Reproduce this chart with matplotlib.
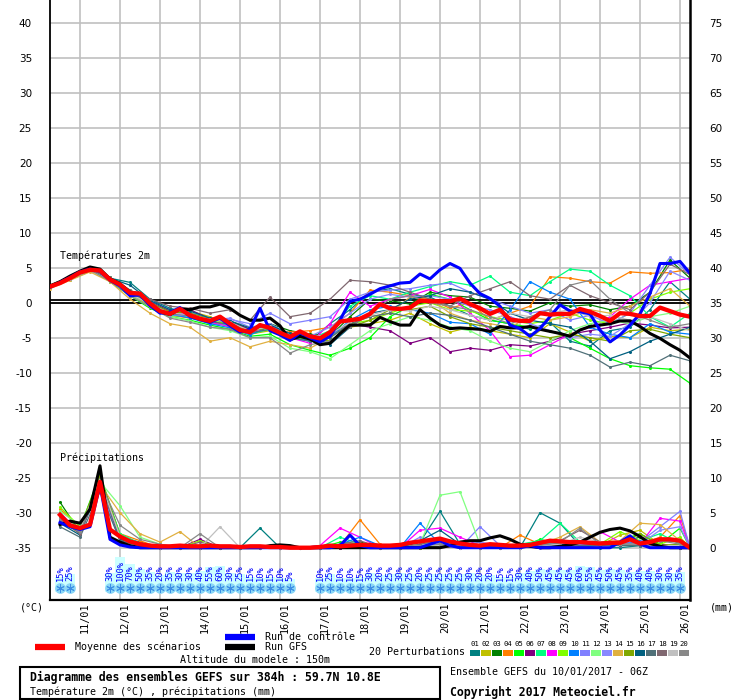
import numpy as np
import matplotlib
matplotlib.use("Agg")
import matplotlib.pyplot as plt
from matplotlib.patches import Rectangle
from matplotlib.transforms import ScaledTranslation

plt.rcParams['axes.unicode_minus'] = False
mono = 'DejaVu Sans Mono'

# ---- time axes (hours after 10/01 06Z) ----
hours6 = np.arange(0, 385, 6)           # mean / control / GFS temperature
hours12 = np.arange(0, 385, 12)         # perturbation temperature
p_hours6 = np.arange(6, 385, 6)         # mean / control / GFS precipitation
p_hours12 = list(range(6, 379, 12)) + [384]   # perturbation precipitation

day_hours = list(range(18, 379, 24))
day_labels = ["%02d/01" % d for d in range(11, 27)]

# ---- temperature 2m (C) ----
mean_t = [2.3, 2.8, 3.5, 4.3, 4.7, 4.6, 3.3, 2.6, 1.4, 1.3,
          -0.1, -1.2, -1.6, -0.9, -1.8, -2.3, -2.6, -2.0, -3.0, -3.9,
          -4.2, -3.2, -3.6, -4.3, -4.9, -4.1, -4.8, -5.1, -4.2, -2.7,
          -2.5, -2.3, -1.6, -0.2, -0.8, -0.9, -0.7, 0.3, 0.2, 0.2,
          0.2, 0.6, -0.2, -0.8, -1.6, -1.0, -2.4, -2.6, -2.6, -1.5,
          -1.7, -1.6, -1.6, -0.9, -1.3, -1.9, -2.6, -1.5, -1.6, -1.9,
          -1.9, -0.7, -1.2, -1.7, -2.0]
ctrl_t = [2.2, 2.9, 3.6, 4.4, 4.8, 4.5, 3.2, 2.4, 1.0, 1.1,
          -0.4, -1.5, -1.4, -0.7, -2.0, -2.4, -2.8, -2.2, -3.3, -4.2,
          -3.8, -0.8, -4.0, -4.6, -5.4, -4.3, -5.0, -5.6, -4.8, -2.5,
          0.2, 0.5, 1.2, 2.0, 2.4, 2.8, 2.9, 4.1, 3.4, 4.7,
          5.6, 4.9, 2.8, 1.3, 0.6, -0.5, -3.2, -3.7, -4.8, -3.7,
          -2.0, -0.3, -1.2, -1.3, -1.6, -3.9, -5.6, -4.6, -3.2, -1.6,
          1.3, 5.6, 5.6, 5.9, 4.2]
gfs_t = [2.4, 3.0, 3.8, 4.5, 5.1, 4.8, 3.4, 2.7, 1.5, 1.2,
         -0.3, -1.3, -1.7, -0.9, -1.0, -0.6, -0.6, -0.2, -0.8, -1.8,
         -2.5, -2.5, -2.2, -3.3, -5.3, -4.8, -5.2, -6.0, -5.8, -4.4,
         -3.2, -3.2, -3.2, -2.1, -2.7, -3.2, -3.2, -1.0, -2.2, -3.2,
         -3.7, -3.6, -3.7, -3.8, -4.1, -3.4, -3.6, -3.6, -3.4, -3.8,
         -4.1, -4.4, -4.8, -3.9, -3.4, -3.2, -3.0, -2.6, -2.6, -3.4,
         -4.4, -5.1, -6.0, -6.8, -7.9]

t01 = [2.2, 3.4, 4.6, 3.5, 2.9, 0.5, -0.8, -1.5, -2.2, -2.8, -4.0,
       -3.2, -4.6, -5.5, -3.0, -1.0, 1.5, 2.0, 1.2, 0.8, -0.5, -1.8,
       -2.5, -3.0, -3.8, -2.8, -5.5, -6.2, -4.0, -3.5, -1.0, 3.0, 0.5]
t02 = [2.4, 3.6, 4.9, 3.6, 1.2, -0.3, -1.0, -1.2, -2.0, -3.3, -4.5,
       -4.0, -5.2, -5.0, -5.5, -3.5, -3.0, -2.5, -1.5, -3.0, -4.2, -3.5,
       -4.0, -4.5, -5.0, -3.0, -4.2, -5.5, -4.8, -5.0, -3.5, -4.0, -3.8]
t03 = [2.3, 3.5, 4.8, 3.2, 1.6, 0.0, -1.5, -1.7, -2.5, -2.6, -3.8,
       -3.0, -4.0, -4.5, -4.8, -2.0, 0.5, 0.3, -0.2, 1.5, 1.0, 0.8,
       -0.5, -0.8, -1.2, 0.0, -0.5, -0.3, -1.0, -0.5, 1.5, 6.1, 3.5]
t04 = [2.1, 3.3, 4.5, 3.4, 1.3, -0.5, -1.8, -2.2, -2.5, -3.5, -4.5,
       -3.8, -4.2, -4.0, -3.5, -1.5, 1.8, 1.5, 1.0, 0.5, -0.8, 0.0,
       -2.5, -1.5, -0.5, 3.7, 3.5, 3.0, 2.8, 4.4, 4.2, 4.3, 4.8]
t05 = [2.5, 3.7, 4.9, 3.0, 1.0, -0.8, -2.0, -2.5, -3.2, -3.8, -4.8,
       -4.5, -6.0, -6.8, -7.5, -6.5, -5.0, -2.0, -0.5, 1.2, 0.5, -1.0,
       -2.5, -3.0, -3.5, -4.0, -5.0, -6.5, -8.0, -9.0, -9.3, -9.5, -11.5]
t06 = [2.2, 3.4, 4.6, 3.4, 1.5, 0.2, -1.2, -1.0, -2.3, -2.8, -3.8,
       -3.5, -4.5, -4.8, -4.5, -3.0, -3.5, -4.0, -5.8, -5.0, -7.0, -6.5,
       -6.8, -6.0, -6.2, -5.5, -4.5, -4.0, -3.5, -2.9, -3.2, -3.6, -3.5]
t07 = [2.3, 3.5, 4.7, 3.6, 1.8, 0.0, -1.8, -2.0, -3.0, -3.2, -4.5,
       -3.8, -5.0, -5.2, -4.0, -0.5, 1.0, 0.5, 1.5, 2.3, 3.0, 2.5,
       3.8, 1.5, 1.0, 3.0, 4.8, 4.5, 2.5, 1.0, -2.0, -3.5, -1.5]
t08 = [2.4, 3.6, 4.8, 3.3, 1.2, -0.2, -1.4, -1.6, -2.8, -3.4, -4.3,
       -3.3, -5.0, -5.8, -3.0, 1.5, -0.5, 0.5, 1.0, 1.9, 0.8, -1.5,
       -4.0, -7.7, -7.5, -6.0, -4.5, -3.5, -2.0, 0.5, 2.5, 3.0, 3.5]
t09 = [2.2, 3.4, 4.6, 3.1, 1.3, -0.3, -1.5, -2.0, -2.6, -3.0, -4.0,
       -3.5, -4.6, -5.0, -5.0, -3.0, -2.5, -1.5, -0.5, 0.0, -1.0, -1.2,
       -2.0, -2.5, -3.0, -2.5, -1.5, -2.5, -3.0, -1.5, 0.5, 1.5, 2.0]
t10 = [2.3, 3.5, 4.7, 3.3, 1.5, 0.0, -1.6, -2.2, -3.0, -3.6, -4.6,
       -3.4, -5.0, -5.5, -5.0, -2.5, -1.0, -0.5, -1.0, -1.5, -2.8, -3.0,
       -4.5, -1.0, 3.0, 1.5, 0.5, -3.5, -4.5, -5.0, -3.0, -4.2, -4.5]
t11 = [2.4, 3.6, 4.8, 3.5, 1.6, 0.3, -1.0, -1.4, -2.2, -2.4, -3.0,
       -1.5, -3.0, -2.5, -2.0, 0.5, 1.5, 1.8, 2.0, 2.5, 2.8, 1.5,
       0.5, -0.5, -1.5, -1.0, -2.5, -1.8, -3.0, -1.5, 2.5, 6.5, 4.0]
t12 = [2.1, 3.3, 4.5, 3.4, 1.1, -0.6, -2.0, -2.6, -3.5, -4.0, -5.0,
       -4.8, -6.5, -7.0, -8.0, -6.0, -4.0, -3.0, -2.0, -2.5, -3.5, -4.0,
       -5.5, -6.5, -7.0, -5.5, -4.0, -3.0, -2.5, -3.0, -2.0, -1.5, -0.5]
t13 = [2.3, 3.5, 4.7, 3.2, 1.4, -0.2, -1.7, -1.9, -2.5, -2.2, -3.5,
       -3.0, -4.5, -4.8, -3.5, -1.5, 0.5, 1.2, 0.8, 1.0, 0.5, -0.5,
       -1.0, -2.0, -3.0, -4.0, -5.0, -4.5, -4.8, -3.0, 0.0, 4.5, 3.2]
t14 = [2.0, 3.2, 4.4, 3.0, 0.5, -1.5, -3.0, -3.5, -5.5, -5.0, -6.3,
       -5.5, -6.0, -6.5, -5.0, -3.0, -2.0, -1.5, 0.8, 0.5, -1.5, -2.5,
       -3.0, -3.5, -2.0, -2.5, -2.0, -1.0, -1.5, -0.5, 0.8, 2.0, -0.5]
t15 = [2.3, 3.5, 4.7, 3.4, 1.5, 0.0, -1.3, -1.5, -2.3, -2.9, -4.0,
       -3.6, -4.8, -5.2, -5.5, -3.5, -2.5, -1.0, -1.0, -0.5, -2.0, -3.0,
       -3.5, -4.0, -4.5, -5.0, -4.5, -5.0, -5.5, -4.0, -3.8, -4.5, -5.0]
t16 = [2.2, 3.4, 4.6, 3.5, 2.5, 0.3, -1.0, -1.2, -2.2, -2.6, -3.6,
       -3.2, -4.4, -4.6, -6.0, -3.5, -1.5, -1.0, 0.5, 1.0, 2.0, 1.5,
       0.5, -1.5, -2.5, -3.0, -3.5, -5.5, -8.0, -7.0, -5.5, -4.5, -3.5]
t17 = [2.3, 3.5, 4.7, 3.3, 1.4, -0.1, -1.6, -1.8, -2.7, -3.1, -4.3,
       -3.8, -5.0, -5.5, -5.0, -3.0, -2.0, -1.5, -2.0, -1.5, -1.8, -2.5,
       -3.5, -4.5, -5.5, -6.0, -6.5, -7.5, -9.2, -8.5, -9.0, -7.5, -8.3]
t18 = [2.4, 3.6, 4.8, 3.6, 1.8, 0.5, -0.5, -0.8, -1.5, -1.0, -2.5,
       0.8, -2.0, -1.5, 0.5, 3.2, 3.0, 2.5, 1.5, 0.5, -0.5, 1.0,
       2.0, 3.0, 1.0, 0.5, 2.5, 1.0, 0.0, -1.0, 1.5, 5.5, 4.0]
t19 = [2.2, 3.4, 4.6, 3.2, 1.3, -0.2, -1.5, -1.7, -2.4, -2.8, -4.0,
       -3.4, -4.7, -4.9, -4.5, -2.8, -1.8, -1.0, -1.2, -0.5, -1.0, -1.8,
       -2.5, -1.5, -2.0, -1.5, -1.0, -2.0, -1.8, -2.5, -2.0, -3.0, -4.0]
t20 = [2.3, 3.5, 4.7, 3.1, 1.0, -0.6, -2.2, -2.8, -3.5, -3.8, -5.0,
       -5.0, -7.2, -6.0, -5.5, -3.5, -1.5, 0.5, 1.0, 0.0, -0.5, -1.0,
       -2.0, -3.0, -2.0, -1.0, 2.5, 3.2, 0.5, -1.5, -2.5, -3.5, -3.0]

# ---- precipitation (mm per 6h) ----
mean_p = [4.7, 3.2, 2.8, 3.3, 9.4, 2.6, 1.6, 0.9, 0.5, 0.3,
          0.2, 0.2, 0.3, 0.2, 0.2, 0.3, 0.2, 0.2, 0.1, 0.2,
          0.2, 0.1, 0.1, 0.0, 0.0, 0.0, 0.1, 0.3, 0.2, 0.3,
          0.4, 0.4, 0.3, 0.3, 0.4, 0.7, 0.9, 1.1, 1.3, 0.9,
          0.6, 0.4, 0.3, 0.5, 0.4, 0.3, 0.3, 0.4, 0.7, 1.0,
          0.9, 0.8, 0.8, 0.7, 0.6, 0.7, 0.7, 1.2, 0.6, 0.8,
          1.2, 1.2, 1.0, 0.0]
ctrl_p = [3.6, 3.0, 2.6, 3.0, 9.0, 1.2, 0.4, 0.1, 0.0, 0.0,
          0.0, 0.0, 0.0, 0.0, 0.0, 0.0, 0.0, 0.0, 0.0, 0.0,
          0.0, 0.0, 0.0, 0.0, 0.0, 0.0, 0.0, 0.0, 0.3, 1.8,
          0.3, 0.0, 0.0, 0.0, 0.0, 0.0, 0.0, 0.5, 1.0, 0.3,
          0.0, 0.0, 0.0, 0.0, 0.0, 0.0, 0.0, 0.3, 0.0, 0.0,
          0.0, 0.0, 0.0, 0.0, 0.0, 0.0, 0.8, 1.7, 0.5, 0.0,
          0.0, 0.0, 0.0, 0.0]
gfs_p = [3.3, 3.8, 3.5, 5.5, 11.7, 1.5, 0.8, 0.3, 0.0, 0.0,
         0.0, 0.0, 0.0, 0.0, 0.0, 0.0, 0.0, 0.0, 0.0, 0.0,
         0.0, 0.3, 0.4, 0.3, 0.0, 0.0, 0.0, 0.0, 0.0, 0.0,
         0.0, 0.0, 0.0, 0.0, 0.0, 0.0, 0.0, 0.0, 0.0, 0.3,
         0.8, 1.0, 1.0, 1.4, 1.7, 1.2, 0.5, 0.2, 0.0, 0.0,
         0.2, 0.4, 0.8, 1.5, 2.2, 2.6, 2.8, 2.4, 1.6, 0.6,
         0.2, 0.0, 0.0, 0.0]

r01 = [4.8, 2.5, 10.0, 1.5, 0.8, 0, 0, 0, 0, 0, 2.8,
       0, 0, 0, 0, 0.5, 0, 0, 0.8, 5.2, 0.5, 0,
       0, 0, 5.0, 3.5, 0.3, 0, 0, 0.3, 0.5, 0, 0]
r02 = [4.0, 2.0, 9.0, 1.0, 0.3, 0, 0, 0, 0, 0, 0,
       0, 0, 0, 0.3, 0.5, 0, 0, 0, 0.5, 0.3, 0,
       0, 0, 0.5, 0.8, 0.5, 0.3, 1.8, 2.5, 0.5, 0.3, 0]
r03 = [6.5, 2.2, 9.5, 1.2, 0.4, 0, 0, 0, 0, 0, 0,
       0, 0, 0, 0, 0.8, 0.2, 0, 0, 0.3, 0, 0,
       0, 0, 0.5, 0.8, 0.5, 0.5, 0.8, 1.5, 0.3, 0.2, 0]
r04 = [5.5, 3.0, 9.8, 2.0, 1.0, 0, 0, 0, 0, 0, 0,
       0, 0, 0.2, 0.3, 4.0, 0.5, 0, 0, 0.3, 0, 0,
       0, 1.8, 0.5, 1.0, 0.8, 0.3, 1.0, 0.5, 1.5, 4.6, 0]
r05 = [4.5, 2.8, 10.5, 1.8, 0.5, 0, 0, 0, 0, 0, 0,
       0, 0, 0, 0.8, 0.5, 0, 0, 0, 0.3, 0, 0,
       0, 0, 1.2, 0.5, 0.3, 0.5, 1.0, 2.0, 0.5, 2.8, 0]
r06 = [4.2, 2.4, 10.2, 1.4, 0.5, 0, 0, 1.2, 0, 0, 0,
       0, 0, 0, 0, 0.3, 0, 0, 0, 0.2, 0, 0,
       0, 0, 0.3, 0.3, 0.2, 0.5, 0.3, 0.5, 0.5, 0, 0]
r07 = [4.6, 2.6, 9.6, 2.0, 0.6, 0, 0, 0, 0, 0, 0,
       0, 0, 0, 1.5, 0.5, 0, 0, 0.5, 1.0, 0.3, 0,
       0, 0.5, 1.0, 3.5, 0.8, 0.5, 0.5, 1.0, 2.0, 0.5, 0]
r08 = [5.0, 2.2, 9.2, 1.5, 0.4, 0, 0, 0, 0, 0, 0,
       0, 0, 0.3, 2.8, 1.5, 0, 0, 2.5, 2.8, 1.5, 0.3,
       0, 0, 0.3, 0.5, 0.5, 2.3, 0.8, 0.5, 4.2, 3.8, 0]
r09 = [5.8, 3.0, 9.0, 1.8, 0.3, 0, 0, 1.0, 0, 0, 0,
       0, 0, 0, 0.3, 0.3, 0, 0, 0, 0.3, 0, 0,
       0, 0, 0.5, 0.8, 0.5, 0.5, 2.3, 1.0, 0.5, 1.5, 0]
r10 = [4.4, 2.0, 8.8, 1.3, 0.5, 0, 0, 0, 0, 0, 0,
       0, 0, 0, 0.5, 1.5, 0.3, 0, 3.5, 0.5, 0, 0,
       0, 0, 0.3, 0.8, 0.5, 0.3, 0.5, 1.0, 0.3, 0.3, 0]
r11 = [3.8, 2.4, 8.5, 1.0, 0.3, 0, 0, 0, 0, 0, 0,
       0, 0, 0, 0.3, 0.3, 0, 0, 1.5, 0.5, 0, 3.0,
       0.3, 0, 0, 0.3, 0.3, 0.5, 0.3, 0.8, 3.0, 5.2, 0]
r12 = [5.2, 3.2, 9.4, 6.0, 1.5, 0.5, 0, 0, 0, 0, 0,
       0, 0, 0, 0.5, 0.3, 0, 0, 0.5, 7.5, 8.0, 0.5,
       0, 0, 0.5, 1.0, 0.5, 0.3, 0.5, 0.5, 0.3, 0.3, 0]
r13 = [4.3, 2.5, 9.8, 1.4, 0.4, 0, 0, 0, 0, 0, 0,
       0, 0, 0, 0.5, 0.5, 0, 0, 0.3, 0.5, 0.3, 0.8,
       0.3, 0, 0.3, 0.5, 0.5, 0.3, 0.8, 0.5, 2.5, 3.0, 0]
r14 = [4.0, 2.3, 9.0, 5.0, 2.0, 0.8, 2.3, 0, 0, 0, 0,
       0, 0, 0, 0.3, 0.5, 0, 0, 0.3, 0.3, 0, 0,
       0, 0.5, 0.5, 1.5, 3.0, 0.8, 1.0, 3.5, 3.3, 1.0, 0]
r15 = [4.6, 2.7, 10.3, 1.6, 0.5, 0, 0, 0, 0, 0, 0,
       0, 0, 0, 0.3, 0.3, 0, 0, 0, 0.5, 0.3, 0,
       0, 0, 0.3, 0.5, 0.3, 0.3, 0.5, 2.0, 0.3, 0.5, 0]
r16 = [3.5, 1.8, 9.5, 1.2, 0.6, 0, 0, 0, 0, 0, 0,
       0, 0, 0.3, 0.3, 0.3, 0, 0, 1.0, 2.5, 0.5, 0,
       0, 0, 0.3, 0.5, 0.3, 0.5, 0.5, 0.5, 0.3, 0.3, 0]
r17 = [3.0, 1.5, 8.0, 1.0, 0.3, 0, 0, 0, 0, 0, 0,
       0, 0, 0, 0.3, 0.3, 0, 0, 0.3, 0.3, 0, 0,
       0, 0, 0.3, 0.3, 0.3, 0.3, 0.3, 0.3, 0.3, 0, 0]
r18 = [4.0, 2.0, 9.0, 1.5, 0.5, 0, 0, 0.8, 0, 0, 0,
       0, 0, 0, 0.5, 1.0, 0, 0, 0.5, 1.0, 0.3, 0,
       0, 0, 0.5, 1.0, 2.5, 0.8, 0.5, 0.5, 1.0, 0.8, 0]
r19 = [4.7, 2.6, 9.7, 1.6, 0.5, 0, 0, 0, 3.0, 0, 0,
       0, 0, 0, 0.3, 0.5, 0, 0, 0.3, 0.3, 0, 0,
       0, 0, 0.3, 0.5, 1.5, 0.8, 0.5, 0.5, 0.3, 0.3, 0]
r20 = [4.1, 2.2, 9.3, 3.2, 1.2, 0.5, 0, 2.0, 0, 0, 0,
       0, 0, 0, 0.3, 0.5, 0, 0, 0.3, 0.5, 0.3, 0,
       0, 0.3, 0.3, 0.8, 2.8, 0.5, 0.5, 0.5, 1.0, 0.5, 0]

pert_colors = ['#008080', '#c0c000', '#008000', '#ff8000', '#00ff00',
               '#800080', '#00ff80', '#ff00ff', '#80ff00', '#0080ff',
               '#8080ff', '#80ff80', '#8888ff', '#e0b040', '#80a800',
               '#006080', '#507078', '#806870', '#c0c0c0', '#888888']
temp_pert = [t01, t02, t03, t04, t05, t06, t07, t08, t09, t10,
             t11, t12, t13, t14, t15, t16, t17, t18, t19, t20]
prec_pert = [r01, r02, r03, r04, r05, r06, r07, r08, r09, r10,
             r11, r12, r13, r14, r15, r16, r17, r18, r19, r20]

# ---- snow probability (%) ----
snow_hours = [6, 12] + list(range(36, 145, 6)) + list(range(162, 379, 6))
snow_prob = [15, 25,
             30, 100, 70, 50, 35, 20, 35, 30, 30, 40, 55, 60, 30, 25, 15, 10, 15, 10, 5,
             10, 25, 10, 10, 15, 30, 20, 25, 30, 25, 20, 25, 25, 25, 25, 30, 20,
             20, 15, 15, 30, 40, 50, 45, 45, 45, 60, 55, 45, 50, 45, 35, 40, 40, 30, 30, 35]

PRECIP_BASE = -35.0

fig = plt.figure(figsize=(7.4, 7.0), dpi=100)
ax = fig.add_axes([50/740, 100/700, 640/740, 600/700])
ax.set_xlim(0, 384)
ax.set_ylim(-42.47, 43.24)

yt = np.arange(-35, 41, 5)
ax.set_yticks(yt)
ax.set_yticklabels([str(v) for v in yt], fontsize=7.5)
ax.set_xticks(day_hours)
ax.set_xticklabels(day_labels, rotation=90, fontsize=7.3, family=mono)
ax.tick_params(axis='y', length=0, pad=13)
ax.tick_params(axis='x', length=0, pad=2)
for lab in ax.get_xticklabels():
    lab.set_transform(lab.get_transform() + ScaledTranslation(0.05, 0, fig.dpi_scale_trans))
ax.grid(True, color='#c0c0c0', lw=1.2, zorder=0)
ax.set_axisbelow(True)
ax.spines['top'].set_visible(False)
ax.spines['right'].set_visible(False)
ax.spines['left'].set_linewidth(1.3)
ax.spines['bottom'].set_linewidth(1.6)

# freezing line
ax.axhline(0.0, color='black', lw=1.3, zorder=1.5)
ax.axhline(0.4, color='black', lw=1.3, zorder=1.5)

# temperature
for c, t in zip(pert_colors, temp_pert):
    ax.plot(hours12, t, color=c, lw=0.9, marker='o', ms=2.2, mew=0, zorder=3)
ax.plot(hours6, gfs_t, color='black', lw=2.2, zorder=4)
ax.plot(hours6, ctrl_t, color='#0000ff', lw=2.2, zorder=5)
ax.plot(hours6, mean_t, color='#ff0000', lw=3.1, zorder=6)

# precipitation, plotted on the shared scale (0 mm at -35)
for c, p in zip(pert_colors, prec_pert):
    ax.plot(p_hours12, PRECIP_BASE + np.array(p), color=c, lw=0.9,
            marker='o', ms=2.2, mew=0, zorder=3)
ax.plot(p_hours6, PRECIP_BASE + np.array(gfs_p), color='black', lw=2.2, zorder=4)
ax.plot(p_hours6, PRECIP_BASE + np.array(ctrl_p), color='#0000ff', lw=2.2, zorder=5)
ax.plot(p_hours6, PRECIP_BASE + np.array(mean_p), color='#ff0000', lw=3.1, zorder=6)

# snow probability strip
sp = np.array(snow_prob)
ax.bar(snow_hours, (12 + 0.23 * sp) / 7.0, width=6, bottom=-41.33,
       color='#ccffff', lw=0, zorder=2)
ax.scatter(snow_hours, [-40.69] * len(snow_hours), s=60, color='#8ad6f6', lw=0, zorder=3)
ax.scatter(snow_hours, [-40.69] * len(snow_hours), s=30, marker=(6, 2, 0),
           color='#3d8fe6', lw=0.7, zorder=3.5)
for h, p in zip(snow_hours, snow_prob):
    ax.text(h, -39.8, "%d%%" % p, rotation=90, ha='center', va='bottom',
            color='#0000ff', fontsize=6.3, family=mono, zorder=4)

# right-hand axis (precipitation mm / shifted temperature)
ax2 = ax.twinx()
ax2.set_ylim(ax.get_ylim())
ax2.set_yticks(yt)
ax2.set_yticklabels([str(v + 35) for v in yt], fontsize=7.5)
ax2.tick_params(axis='y', length=0, pad=14)
ax2.spines['top'].set_visible(False)
ax2.spines['left'].set_visible(False)
ax2.spines['bottom'].set_visible(False)
ax2.spines['right'].set_linewidth(1.8)

# overlay in pixel coordinates for captions and legend
ov = fig.add_axes([0, 0, 1, 1], zorder=10)
ov.set_xlim(0, 740)
ov.set_ylim(700, 0)
ov.axis('off')

fs = 7.2
ov.text(60, 256, "Températures 2m", fontsize=fs, family=mono, va='center')
ov.text(60, 458, "Précipitations", fontsize=fs, family=mono, va='center')
ov.text(20, 607, "(°C)", fontsize=fs, family=mono, va='center')
ov.text(710, 607, "(mm)", fontsize=fs, family=mono, va='center')

ov.plot([35, 65], [647, 647], color='#ff0000', lw=4.5, solid_capstyle='butt')
ov.text(75, 647, "Moyenne des scénarios", fontsize=fs, family=mono, va='center')
ov.plot([225, 255], [636.5, 636.5], color='#0000ff', lw=4.5, solid_capstyle='butt')
ov.text(265, 636.5, "Run de contrôle", fontsize=fs, family=mono, va='center')
ov.plot([225, 255], [646.5, 646.5], color='black', lw=4.5, solid_capstyle='butt')
ov.text(265, 647, "Run GFS", fontsize=fs, family=mono, va='center')
ov.text(180, 660, "Altitude du modele : 150m", fontsize=fs, family=mono, va='center')

ov.add_patch(Rectangle((20, 667), 420, 31.5, fill=False, lw=1.5, ec='black'))
ov.text(30, 677.5, "Diagramme des ensembles GEFS sur 384h : 59.7N 10.8E",
        fontsize=8.3, family=mono, weight='bold', va='center')
ov.text(30, 692, "Température 2m (°C) , précipitations (mm)", fontsize=fs,
        family=mono, va='center')
ov.text(450, 672, "Ensemble GEFS du 10/01/2017 - 06Z", fontsize=fs, family=mono, va='center')
ov.text(450, 692, "Copyright 2017 Meteociel.fr", fontsize=8.3, family=mono,
        weight='bold', va='center')

ov.text(369, 652, "20 Perturbations", fontsize=fs, family=mono, va='center')
for i, c in enumerate(pert_colors):
    ov.add_patch(Rectangle((470 + 11 * i, 650), 10, 6, color=c, lw=0))
    ov.text(475 + 11 * i, 644, "%02d" % (i + 1), fontsize=5.2, family=mono,
            ha='center', va='center')

fig.savefig("out.png", dpi=100)
